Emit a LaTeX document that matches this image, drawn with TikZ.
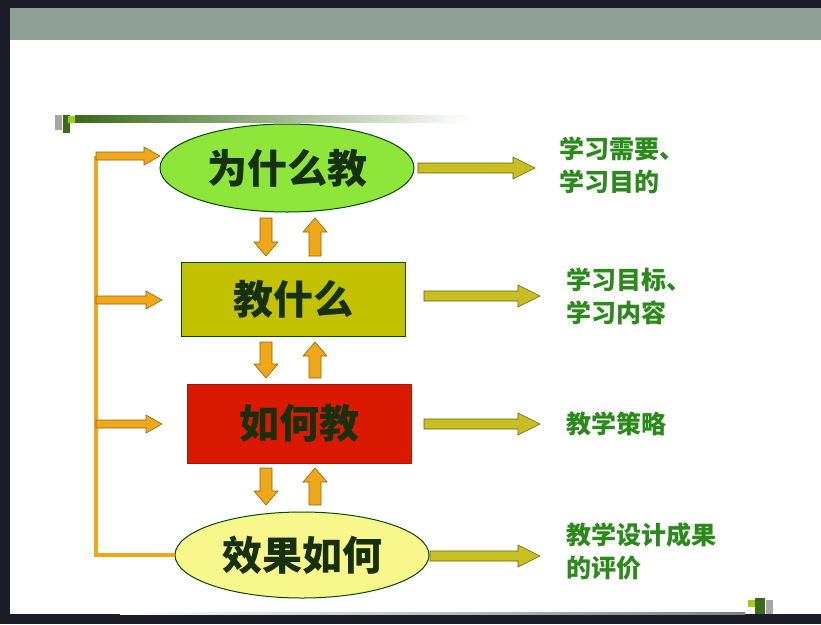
\documentclass[tikz,border=0pt]{standalone}
\usepackage{fontspec}
\newfontfamily\cjk{Noto Sans CJK SC}
\usetikzlibrary{calc,shapes.geometric}
\definecolor{bgdark}{HTML}{1A1D26}
\definecolor{banner}{HTML}{8FA096}
\definecolor{leafgreen}{HTML}{8EE63A}
\definecolor{olivebox}{HTML}{C2C200}
\definecolor{redbox}{HTML}{D91A00}
\definecolor{paleyel}{HTML}{F7F78C}
\definecolor{txtdark}{HTML}{163010}
\definecolor{lblgreen}{HTML}{2A8A1A}
\definecolor{orangearr}{HTML}{F0A818}
\definecolor{olivearr}{HTML}{C8C020}
\definecolor{darkgreen}{HTML}{3A6A1A}
\tikzset{
  mainlbl/.style={font=\cjk\bfseries\fontsize{40}{44}\selectfont, text=txtdark},
  sidelbl/.style={font=\cjk\bfseries\fontsize{25}{33}\selectfont, text=lblgreen, align=left, anchor=west},
  boxline/.style={draw=black!70!green, line width=1pt},
  fatR/.style={fill=olivearr, draw=black!50!olivearr, line width=0.6pt},
  fatO/.style={fill=orangearr, draw=black!40!orangearr, line width=0.6pt},
}
% horizontal right arrow: start coord, length, half shaft, half head, head length, style
\newcommand\harr[6]{\draw[#6] (#1) ++(0,-#3) -- ++(#2-#5,0) -- ++(0,-#4+#3) -- ++(#5,#4) -- ++(-#5,#4) -- ++(0,-#4+#3) -- ++(-#2+#5,0) -- cycle;}
% vertical arrow: start coord, signed length factor s, length
\newcommand\varr[3]{\draw[fatO] (#1) ++(-6,0) -- ++(0,#2*#3-#2*14) -- ++(-6,0) -- ++(12,#2*14) -- ++(12,-#2*14) -- ++(-6,0) -- ++(0,-#2*#3+#2*14) -- cycle;}
\begin{document}
\begin{tikzpicture}[x=1pt,y=-1pt]
\useasboundingbox (0,0) rectangle (821,624);
\fill[bgdark] (0,0) rectangle (821,624);
\fill[white] (10,8) rectangle (821,614);
\fill[banner] (10,8) rectangle (821,40);
% decoration top
\shade[left color=darkgreen, right color=white] (75,115) rectangle (470,122);
\fill[gray!70] (55,115) rectangle (62,130);
\fill[darkgreen] (63,115) rectangle (70,133);
\fill[olivearr!80!green] (68,116) rectangle (75,123);
% decoration bottom
\shade[left color=white, right color=gray] (120,612) rectangle (745,614);
\fill[olivearr!80!green] (748,600) rectangle (755,607);
\fill[darkgreen] (755,598) rectangle (765,614);
\fill[gray!70] (766,600) rectangle (773,614);

% nodes
\node[ellipse, boxline, fill=leafgreen, minimum width=254, minimum height=88, mainlbl] (why) at (287,168) {为什么教};
\node[rectangle, boxline, fill=olivebox, minimum width=224, minimum height=74, mainlbl] (what) at (293,299) {教什么};
\node[rectangle, draw=redbox!80!black, line width=0.6pt, fill=redbox, minimum width=224, minimum height=79, mainlbl] (how) at (299,423.5) {如何教};
\node[ellipse, boxline, fill=paleyel, minimum width=254, minimum height=86, mainlbl] (eff) at (302,555) {效果如何};

\node[sidelbl] (l1) at (556,165) {学习需要、\\学习目的};
\node[sidelbl] (l2) at (563,296) {学习目标、\\学习内容};
\node[sidelbl] (l3) at (563,424) {教学策略};
\node[sidelbl] (l4) at (563,551) {教学设计成果\\的评价};

% right arrows
\coordinate (r1) at (418,168); \harr{r1}{117}{5}{11}{22}{fatR}
\coordinate (r2) at (424,296); \harr{r2}{116}{5}{11}{22}{fatR}
\coordinate (r3) at (424,424); \harr{r3}{116}{5}{11}{22}{fatR}
\coordinate (r4) at (430,556); \harr{r4}{110}{5}{11}{22}{fatR}

% left feedback line
\draw[orangearr, line width=4pt] (96,156) -- (96,555) -- (eff.west |- 0,555);
\coordinate (f1) at (96,156); \harr{f1}{64}{4}{9}{16}{fatO}
\coordinate (f2) at (96,300); \harr{f2}{66}{4}{9}{16}{fatO}
\coordinate (f3) at (96,424); \harr{f3}{66}{4}{9}{16}{fatO}

% vertical arrows
\coordinate (d1) at (266,218); \varr{d1}{1}{38}
\coordinate (u1) at (315,256); \varr{u1}{-1}{38}
\coordinate (d2) at (266,342); \varr{d2}{1}{36}
\coordinate (u2) at (315,378); \varr{u2}{-1}{36}
\coordinate (d3) at (266,468); \varr{d3}{1}{37}
\coordinate (u3) at (315,505); \varr{u3}{-1}{37}
\end{tikzpicture}
\end{document}
